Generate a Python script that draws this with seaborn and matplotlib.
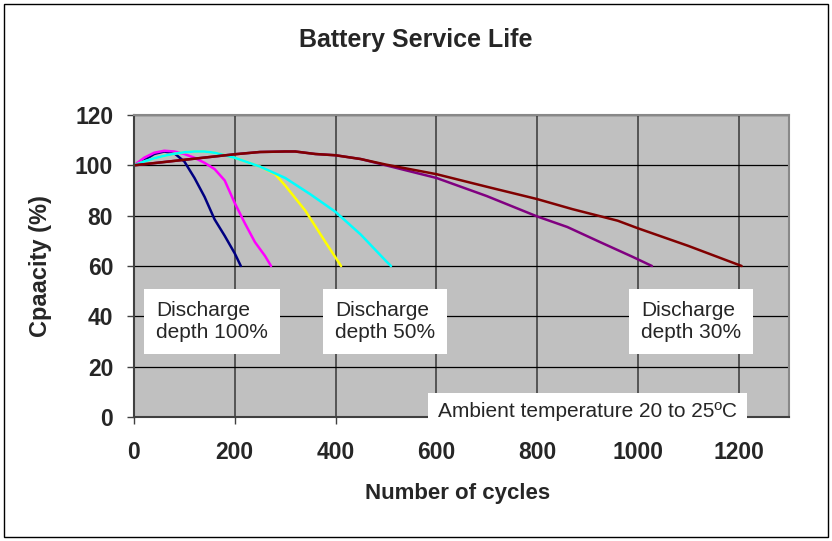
import numpy as np
import pandas as pd
import matplotlib
matplotlib.use('Agg')
import matplotlib.pyplot as plt
import seaborn as sns
from matplotlib.patches import Rectangle

# curves (cycles -> capacity %)
navy_x = [0, 20, 40, 60, 80, 100, 120, 140, 160, 180, 200, 212]
navy_y = [100, 102, 104.5, 105.5, 104.8, 101.5, 95, 87.5, 78.5, 72, 65, 60]

magenta_x = [0, 20, 40, 60, 80, 100, 120, 140, 160, 180, 200, 220, 240, 260, 272]
magenta_y = [100, 103, 105, 105.8, 105.5, 104.5, 103, 101, 98.5, 94, 85, 77, 69.5, 64, 60]

yellow_x = [0, 20, 40, 60, 80, 100, 120, 140, 160, 200, 250, 280, 300, 340, 380, 411]
yellow_y = [100, 101.5, 102.8, 103.8, 104.6, 105.2, 105.5, 105.5, 105, 103, 99.5, 96.5, 92, 82, 69.5, 60]

cyan_x = [0, 20, 40, 60, 80, 100, 120, 140, 160, 200, 250, 300, 350, 400, 450, 500, 510]
cyan_y = [100, 101.5, 102.8, 103.8, 104.6, 105.2, 105.5, 105.5, 105, 103, 99.5, 95, 88.5, 81.5, 72.5, 62, 60]

purple_x = [0, 100, 200, 250, 300, 320, 360, 400, 450, 500, 600, 700, 800, 860, 925, 990, 1028]
purple_y = [100, 102.2, 104.4, 105.3, 105.5, 105.5, 104.5, 104, 102.5, 100, 95, 87.8, 79.7, 75.5, 69.5, 63.6, 60]

maroon_x = [0, 100, 200, 250, 300, 320, 360, 400, 450, 500, 600, 700, 800, 870, 960, 1000, 1100, 1206]
maroon_y = [100, 102.2, 104.4, 105.3, 105.5, 105.5, 104.5, 104, 102.5, 100.3, 96.5, 91.5, 86.6, 82.6, 78, 75, 68, 60]

names = ['d100_a', 'd100_b', 'd50_a', 'd50_b', 'd30_a', 'd30_b']
colors = ['#000080', '#FF00FF', '#FFFF00', '#00FFFF', '#800080', '#800000']

x_ticks = [0, 200, 400, 600, 800, 1000, 1200]
y_ticks = [0, 20, 40, 60, 80, 100, 120]

notes = ['Discharge\ndepth 100%', 'Discharge\ndepth 50%', 'Discharge\ndepth 30%']
notes_x = [44, 399, 1007]
notes_y = [38, 38, 38]

df = pd.concat([
    pd.DataFrame({'cycles': xs, 'capacity': ys, 'depth': n})
    for n, xs, ys in zip(names,
                         [navy_x, magenta_x, yellow_x, cyan_x, purple_x, maroon_x],
                         [navy_y, magenta_y, yellow_y, cyan_y, purple_y, maroon_y])
], ignore_index=True)

sns.set_style('white')
plt.rcParams['font.family'] = ['Liberation Sans', 'DejaVu Sans']

W, H = 832, 541
fig = plt.figure(figsize=(W / 100, H / 100), dpi=100)
ax = fig.add_axes([134 / W, 1 - 417 / H, (789 - 134) / W, (417 - 115) / H])
ax.set_facecolor('#C0C0C0')

sns.lineplot(data=df, x='cycles', y='capacity', hue='depth', hue_order=names,
             palette=colors, sort=False, estimator=None, lw=1.8, legend=False, ax=ax)

ax.set_xlim(0, 1300)
ax.set_ylim(0, 120)
ax.set_xticks(x_ticks)
ax.set_yticks(y_ticks)
ax.set_axisbelow(True)
ax.grid(axis='y', color='black', lw=0.9)
ax.grid(axis='x', color='#555555', lw=1.4)

for s in ['top', 'right']:
    ax.spines[s].set_color('#888888')
    ax.spines[s].set_linewidth(1.5)
for s in ['left', 'bottom']:
    ax.spines[s].set_color('#404040')
    ax.spines[s].set_linewidth(1.5)

ax.tick_params(axis='both', direction='out', length=5, width=1, color='#404040', labelsize=16.5)
ax.tick_params(axis='x', pad=12, bottom=True)
ax.tick_params(axis='y', pad=10, left=True)
for lab in ax.get_xticklabels() + ax.get_yticklabels():
    lab.set_fontweight('bold')

ax.set_xlabel('Number of cycles', fontsize=16, fontweight='bold', va='center')
ax.xaxis.set_label_coords((458 - 134) / 655, (417 - 493) / 302)
ax.set_ylabel('Cpaacity (%)', fontsize=17, fontweight='bold', va='center')
ax.yaxis.set_label_coords((40 - 134) / 655, 0.5)

fig.text(0.5, 1 - 40 / H, 'Battery Service Life', ha='center', va='center',
         fontsize=18, fontweight='bold')

box = dict(facecolor='white', edgecolor='none', pad=8.5)
for t, tx, ty in zip(notes, notes_x, notes_y):
    ax.text(tx, ty, t, ha='left', va='center', fontsize=15, bbox=box, zorder=5)

ax.text(900, 2, 'Ambient temperature 20 to 25ºC', ha='center', va='center',
        fontsize=15, bbox=dict(facecolor='white', edgecolor='none', pad=7),
        zorder=6, clip_on=False)

fig.patches.append(Rectangle((4 / W, 4 / H), (828 - 4) / W, (537 - 4) / H,
                             transform=fig.transFigure, fill=False, ec='black', lw=1))

fig.savefig('out.png', dpi=100)
